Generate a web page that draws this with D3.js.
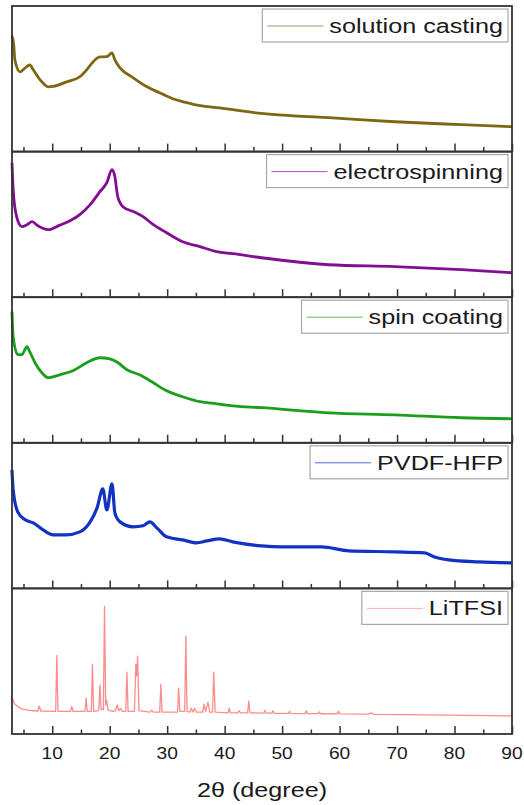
<!DOCTYPE html>
<html><head><meta charset="utf-8">
<script src="https://cdn.jsdelivr.net/npm/d3@7"></script>
<style>body{margin:0;background:#fff}svg{display:block}text{font-family:"Liberation Sans",Arial,sans-serif;fill:#1a1a1a}</style>
</head><body><svg id="c" width="524" height="805"></svg>
<script>
// ---- data (2θ in degrees, intensity in a.u., each panel scaled 0–100) ----
const seriesNames = ["solution casting","electrospinning","spin coating","PVDF-HFP","LiTFSI"];
const seriesColors = ["#7c6812","#820e92","#1b9e1b","#1232c4","#ff8c8c"];
const xTicksMajor = [10,20,30,40,50,60,70,80,90];
const xTicksMinor = [5,15,25,35,45,55,65,75,85];
const xLabel = "2θ (degree)";

const solutionCasting = [[3.0,79.5],[3.3,73.3],[3.5,63],[4.4,54.8],[5.3,57.5],[6.1,59.6],[6.7,56.2],[7.9,49.3],[9.3,44.5],[10.2,44.8],[12.5,47.9],[14.8,51.4],[16.0,56.2],[17.1,61.6],[18.3,65],[19.5,65.2],[20.4,67.8],[20.9,63],[21.8,57.5],[24.1,50.7],[26.5,44.5],[28.7,40.4],[31,36.3],[33.4,33.6],[35.7,31.5],[39.1,30.1],[42.6,28.1],[46.4,26.2],[52,24.6],[58.1,23.3],[69.6,20.5],[81.2,18.5],[90,17.1]];
const electrospinning = [[3.0,92.4],[3.2,73.9],[3.8,55.3],[4.7,48.5],[5.6,49.8],[6.5,51.9],[7.5,49.1],[9.3,46.4],[11.3,49.5],[13.1,52.5],[14.8,56.7],[16.6,63.6],[18.3,72.5],[19.5,78.7],[20.4,87.6],[20.9,82.8],[21.4,69.1],[22.3,62.2],[24.1,58.8],[25.8,55.3],[27.6,49.8],[29.9,44.3],[32.7,38.1],[35.7,34.7],[38.6,31.3],[41.4,29.9],[46.4,27.1],[58.1,22.3],[69.6,21],[81.2,18.9],[90,16.8]];
const spinCoating = [[3.0,90],[3.2,72.9],[4.0,60.5],[4.7,60.5],[5.6,66],[6.1,62.5],[7.0,55],[8.2,48.1],[9.3,44.7],[11.3,46.7],[13.6,49.5],[16.0,55],[18.3,58.4],[20.0,57.7],[21.2,55.7],[23.0,50.2],[25.2,46.7],[27.6,41.2],[29.9,35.7],[32.7,31.6],[35.7,28.2],[38.6,26.8],[41.4,25.4],[46.4,24.1],[58.1,20.6],[69.6,19.2],[81.2,17.2],[90,16.5]];
const pvdfHfp = [[3.0,81.4],[3.2,67.7],[4.0,52.6],[5.3,47.1],[6.7,45],[8.4,40.2],[10.2,36.8],[12.5,36.8],[14.8,38.8],[16.6,45.7],[17.8,55.3],[18.8,68.4],[19.5,53.9],[20.4,71.8],[20.9,51.9],[21.8,45.7],[24.1,42.3],[25.8,43],[27.0,45.7],[28.2,41.6],[29.9,35.4],[32.7,33.3],[35.1,31.3],[36.9,32.6],[39.1,34],[41.4,32],[46.4,29.2],[50,28.5],[56.9,28.5],[61.6,25.8],[69.6,25.1],[74.8,24.4],[76.5,21.6],[79,19.6],[84.2,18.2],[90,17.5]];
const liTFSI = [[3.0,25],[3.5,20.5],[4.5,17.5],[6,16.2],[7.5,15.8],[7.75,19.2],[8.0,15.8],[10.6,15.6],[10.8,54],[11.0,15.6],[13.2,15.5],[13.4,19],[13.6,15.5],[15.7,15.5],[15.9,24.7],[16.1,15.5],[16.8,15.5],[17.0,47.9],[17.2,15.6],[18.1,16],[18.3,33.6],[18.5,17],[18.9,17],[19.1,87.7],[19.3,20],[19.45,23.3],[19.7,16.5],[20.5,15.5],[21.0,16],[21.3,19.9],[21.6,16],[21.9,17.5],[22.2,15.5],[22.8,15.5],[23.0,42.5],[23.2,15.5],[24.3,15.5],[24.55,47.9],[24.7,40],[24.85,53.4],[25.1,16],[27.0,15],[27.3,16.4],[27.6,15],[28.7,15],[28.9,34.2],[29.1,15],[31.8,15],[32.0,31.5],[32.2,15.5],[33.05,15.5],[33.25,67.1],[33.45,15.5],[34.0,15],[34.2,17.8],[34.5,15],[34.8,17.5],[35.1,15],[36.2,15],[36.4,20.5],[36.7,15.5],[37.1,21.9],[37.4,15],[37.9,15],[38.1,42.5],[38.35,15],[40.6,14.5],[40.8,17.8],[41.0,14.5],[42.3,14.5],[42.5,16],[42.8,14.5],[44.0,14.5],[44.2,22.6],[44.4,14.5],[46.8,14.3],[47.0,16.4],[47.2,14.3],[48.2,14.3],[48.4,16],[48.6,14.2],[51.1,14.2],[51.3,15.5],[51.5,14.1],[54.0,14],[54.2,16],[54.4,14],[56.3,14],[56.5,15.3],[56.7,13.9],[59.6,13.9],[59.8,15.8],[60.0,13.8],[65,13.6],[65.5,14.5],[66,13.5],[75,13.2],[90,12.5]];
const seriesData = [solutionCasting, electrospinning, spinCoating, pvdfHfp, liTFSI];
const strokeWidths = [2.8, 2.8, 2.8, 3.2, 1.3];

// ---- layout ----
const svg = d3.select("#c");
const L = 12, R = 512, top0 = 6, H = 145.6;
const x = d3.scaleLinear().domain([3,90]).range([L,R]);
const SX = 1.2;

seriesData.forEach((data,i)=>{
  const t = top0 + i*H, b = t + H;
  const y = d3.scaleLinear().domain([0,100]).range([b,t]);
  const g = svg.append("g");
  const isLast = i === seriesData.length-1;
  const line = d3.line().x(d=>x(d[0])).y(d=>y(d[1]))
    .curve(isLast ? d3.curveLinear : d3.curveMonotoneX);
  g.append("path").datum(data).attr("d",line).attr("fill","none")
    .attr("stroke",seriesColors[i]).attr("stroke-width", strokeWidths[i])
    .attr("stroke-linejoin","round");
  // inward ticks on bottom axis
  const ax = d3.axisBottom(x).tickValues(xTicksMajor).tickSize(-8).tickFormat("");
  const axg = g.append("g").attr("transform",`translate(0,${b})`).call(ax);
  axg.select(".domain").remove();
  axg.selectAll("line").attr("stroke","#333").attr("stroke-width",1.5);
  const axm = d3.axisBottom(x).tickValues(xTicksMinor).tickSize(-4.5).tickFormat("");
  const axmg = g.append("g").attr("transform",`translate(0,${b})`).call(axm);
  axmg.select(".domain").remove();
  axmg.selectAll("line").attr("stroke","#333").attr("stroke-width",1.5);
  // frame
  g.append("rect").attr("x",L).attr("y",t).attr("width",R-L).attr("height",H)
    .attr("fill","none").attr("stroke","#333").attr("stroke-width",1.8);
  // legend
  const lg = svg.append("g");
  const bt = t + 3;
  const tg = lg.append("g").attr("transform",`translate(503,${bt+24}) scale(${SX},1)`);
  const tx = tg.append("text").attr("text-anchor","end").attr("font-size",21).text(seriesNames[i]);
  const w = tx.node().getComputedTextLength()*SX;
  const ts = 503 - w;
  lg.insert("rect",":first-child").attr("x",ts-67).attr("y",bt).attr("width",508-(ts-67)).attr("height",33)
    .attr("fill","#fff").attr("stroke","#a8a8a8").attr("stroke-width",1.2);
  lg.append("line").attr("x1",ts-62).attr("x2",ts-6).attr("y1",bt+17).attr("y2",bt+17)
    .attr("stroke",seriesColors[i]).attr("stroke-width",1).attr("opacity",0.7);
  if(isLast){
    const lab = svg.append("g");
    xTicksMajor.forEach(v=>{
      lab.append("g").attr("transform",`translate(${x(v)},759) scale(${SX},1)`)
        .append("text").attr("text-anchor","middle").attr("font-size",16).text(v);
    });
  }
});
svg.append("g").attr("transform",`translate(262,797) scale(${SX},1)`)
  .append("text").attr("text-anchor","middle").attr("font-size",21).text(xLabel);
</script></body></html>
